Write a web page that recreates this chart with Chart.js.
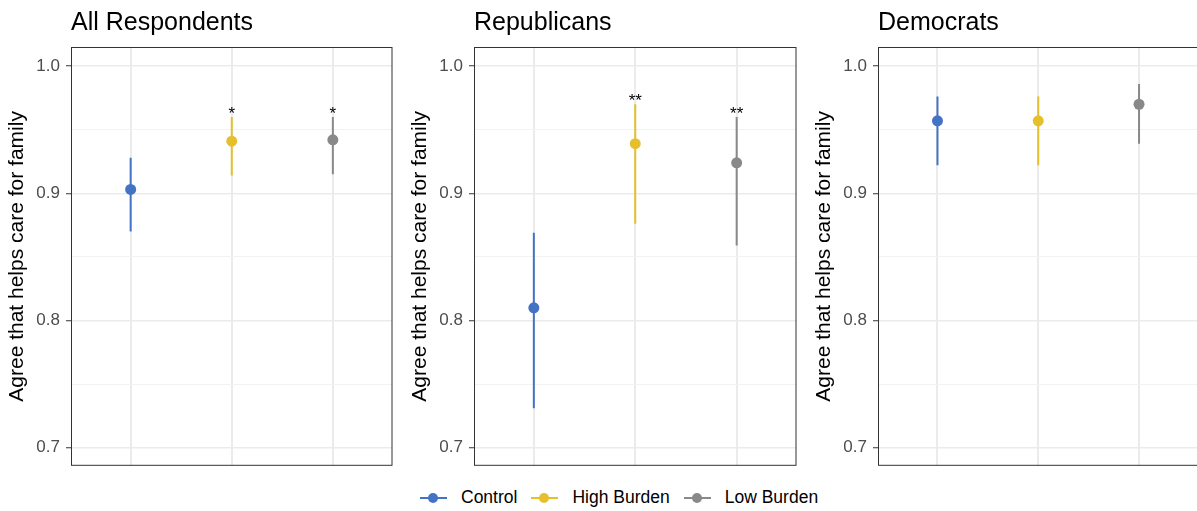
<!DOCTYPE html>
<html>
<head>
<meta charset="utf-8">
<script src="https://cdn.jsdelivr.net/npm/chart.js@4"></script>
<style>
  body { margin: 0; background: #fff; font-family: 'Liberation Sans', Arial, sans-serif; }
  #wrap { position: relative; width: 1197px; height: 511px; overflow: hidden; }
  .panel { position: absolute; top: 0; }
  .legend { position: absolute; left: 420px; top: 487px; display: flex; align-items: center; font-size: 17.5px; color: #000; }
  .item { display: flex; align-items: center; margin-right: 14px; }
  .key { position: relative; width: 27px; height: 14px; margin-right: 14px; }
  .key .ln { position: absolute; left: 0; right: 0; top: 6px; height: 2px; }
  .key .dt { position: absolute; left: 8px; top: 2px; width: 10px; height: 10px; border-radius: 50%; }
</style>
</head>
<body>
<div id="wrap">
  <div class="panel" style="left:0px"><canvas id="c0" width="398" height="482"></canvas></div>
  <div class="panel" style="left:403px"><canvas id="c1" width="399" height="482"></canvas></div>
  <div class="panel" style="left:807px"><canvas id="c2" width="397" height="482"></canvas></div>
  <div class="legend" id="legend"></div>
</div>
<script>
// groups and colours
const groups = ['Control', 'High Burden', 'Low Burden'];
const colors = ['#4472c4', '#e6bf2d', '#898989'];
const panelTitles = ['All Respondents', 'Republicans', 'Democrats'];
const yTitle = 'Agree that helps care for family';

// estimates with lower / upper bounds
const allEst = [0.903, 0.941, 0.942];
const allLow = [0.870, 0.914, 0.915];
const allHigh = [0.928, 0.960, 0.960];
const allStars = ['', '*', '*'];

const repEst = [0.810, 0.939, 0.924];
const repLow = [0.731, 0.876, 0.859];
const repHigh = [0.869, 0.970, 0.960];
const repStars = ['', '**', '**'];

const demEst = [0.957, 0.957, 0.970];
const demLow = [0.922, 0.922, 0.939];
const demHigh = [0.976, 0.976, 0.986];
const demStars = ['', '', ''];

const yMajor = [0.7, 0.8, 0.9, 1.0];
const yMinor = [0.75, 0.85, 0.95];

Chart.defaults.font.family = "'Liberation Sans', Arial, sans-serif";

// frame around the plot area + significance stars
const framePlugin = {
  id: 'frame',
  afterDatasetsDraw(chart) {
    const a = chart.chartArea, ctx = chart.ctx;
    ctx.save();
    ctx.strokeStyle = '#333';
    ctx.lineWidth = 1;
    ctx.strokeRect(a.left + 0.5, a.top + 0.5, a.right - a.left - 1, a.bottom - a.top - 1);
    const stars = chart.options.plugins.frame.stars;
    const hi = chart.options.plugins.frame.hi;
    ctx.fillStyle = '#000';
    ctx.font = "17px 'Liberation Sans', Arial, sans-serif";
    ctx.textAlign = 'center';
    ctx.textBaseline = 'alphabetic';
    stars.forEach(function(s, i) {
      if (!s) return;
      const x = chart.scales.x.getPixelForValue(i);
      const y = chart.scales.y.getPixelForValue(hi[i]);
      ctx.fillText(s, x, y + 2);
    });
    ctx.restore();
  }
};

function makePanel(id, title, est, low, high, stars) {
  const datasets = [];
  groups.forEach(function(g, k) {
    datasets.push({
      label: g,
      data: [{ x: k, y: est[k] }],
      backgroundColor: colors[k],
      borderColor: colors[k],
      pointRadius: 5.5,
      pointBorderWidth: 0
    });
  });
  groups.forEach(function(g, k) {
    datasets.push({
      label: g + ' interval',
      data: [{ x: k, y: low[k] }, { x: k, y: high[k] }],
      borderColor: colors[k],
      borderWidth: 2,
      showLine: true,
      pointRadius: 0
    });
  });

  new Chart(document.getElementById(id), {
    type: 'scatter',
    data: { datasets: datasets },
    plugins: [framePlugin],
    options: {
      responsive: false,
      animation: false,
      devicePixelRatio: 1,
      layout: { padding: { left: 0, right: 1, top: 0, bottom: 1 } },
      plugins: {
        legend: { display: false },
        tooltip: { enabled: false },
        title: {
          display: true,
          text: title,
          align: 'start',
          fullSize: false,
          color: '#000',
          font: { size: 25, weight: 'normal' },
          padding: { top: 8, bottom: 9 }
        },
        frame: { stars: stars, hi: high }
      },
      scales: {
        x: {
          type: 'linear',
          min: -0.59,
          max: 2.59,
          afterBuildTicks: function(s) { s.ticks = [{ value: 0 }, { value: 1 }, { value: 2 }]; },
          afterFit: function(s) { s.height = 0; },
          ticks: { display: false },
          grid: { color: '#ebebeb', lineWidth: 2, drawTicks: false },
          border: { display: false }
        },
        y: {
          min: 0.6858,
          max: 1.015,
          afterBuildTicks: function(s) {
            s.ticks = yMajor.concat(yMinor).sort().map(function(v) {
              return { value: v, major: yMajor.includes(v) };
            });
          },
          afterFit: function(s) { s.width = 71; },
          ticks: {
            autoSkip: false,
            padding: 6,
            color: '#4d4d4d',
            font: { size: 17 },
            callback: function(v) { return yMajor.includes(v) ? v.toFixed(1) : ''; }
          },
          grid: {
            tickLength: 5,
            color: function(c) { return c.tick && c.tick.major ? '#ebebeb' : '#f2f2f2'; },
            lineWidth: function(c) { return c.tick && c.tick.major ? 1.5 : 1; },
            tickColor: function(c) { return c.tick && c.tick.major ? '#333' : 'rgba(0,0,0,0)'; },
            tickWidth: 1
          },
          border: { display: false },
          title: {
            display: true,
            text: yTitle,
            color: '#000',
            font: { size: 21 },
            padding: { top: 5, bottom: 0 }
          }
        }
      }
    }
  });
}

makePanel('c0', panelTitles[0], allEst, allLow, allHigh, allStars);
makePanel('c1', panelTitles[1], repEst, repLow, repHigh, repStars);
makePanel('c2', panelTitles[2], demEst, demLow, demHigh, demStars);

// shared legend
const legend = document.getElementById('legend');
groups.forEach(function(g, k) {
  const item = document.createElement('div');
  item.className = 'item';
  item.innerHTML = '<span class="key"><span class="ln" style="background:' + colors[k] + '"></span>' +
    '<span class="dt" style="background:' + colors[k] + '"></span></span><span>' + g + '</span>';
  legend.appendChild(item);
});
</script>
</body>
</html>
